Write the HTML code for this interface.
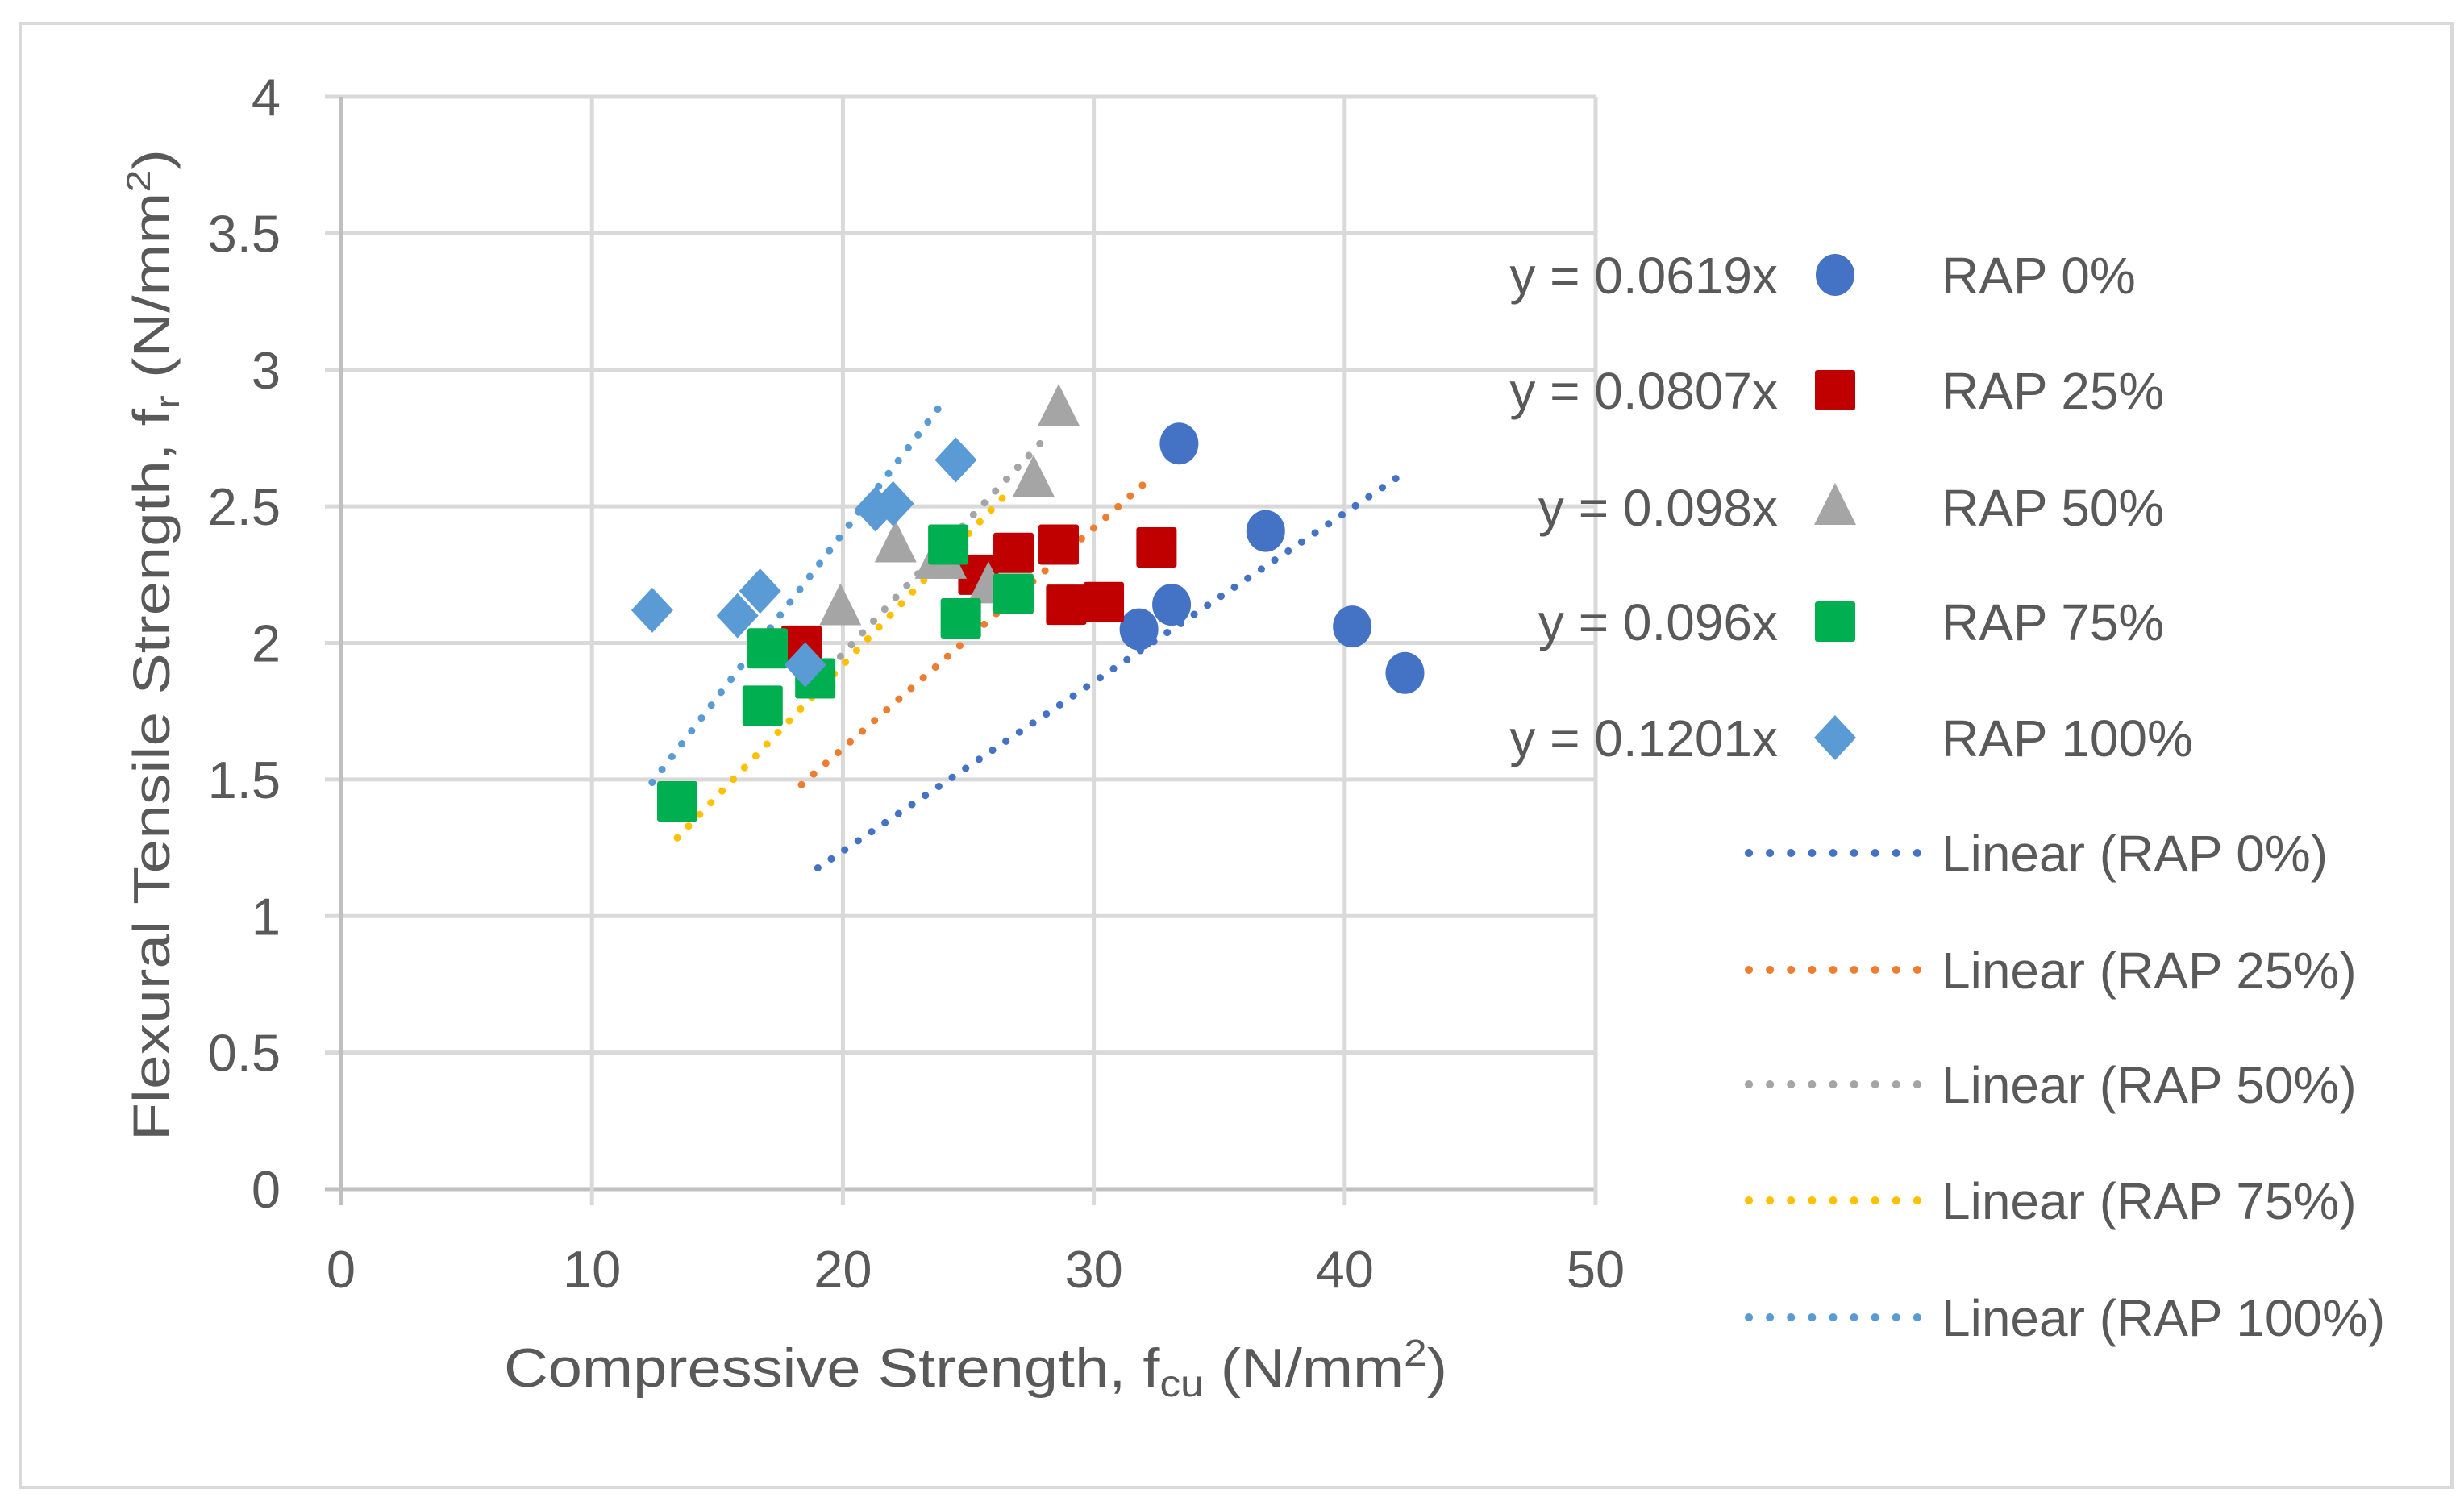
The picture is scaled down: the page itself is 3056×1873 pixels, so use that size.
<!DOCTYPE html>
<html><head><meta charset="utf-8"><style>
html,body{margin:0;padding:0;background:#fff;}
svg{display:block;font-family:"Liberation Sans",sans-serif;}
</style></head><body>
<svg id="chart" width="3056" height="1873" viewBox="0 0 3056 1873" xmlns="http://www.w3.org/2000/svg">
<rect x="25" y="29" width="3016" height="1816" fill="#fff" stroke="#d9d9d9" stroke-width="4"/>
<g id="grid"></g><g id="trends"></g><g id="marks"></g><g id="axes"></g><g id="legend"></g>
<text transform="translate(210,800) rotate(-90)" text-anchor="middle" font-size="64" fill="#595959" textLength="1230" lengthAdjust="spacingAndGlyphs">Flexural Tensile Strength, f<tspan font-size="42" dy="12">r</tspan><tspan dy="-12"> (N/mm</tspan><tspan font-size="42" dy="-24">2</tspan><tspan dy="24">)</tspan></text>
<text x="1210" y="1720" text-anchor="middle" font-size="68" fill="#595959" textLength="1170" lengthAdjust="spacingAndGlyphs">Compressive Strength, f<tspan font-size="46" dy="12">cu</tspan><tspan dy="-12"> (N/mm</tspan><tspan font-size="46" dy="-26">2</tspan><tspan dy="26">)</tspan></text>
</svg>
<script>
const xTicks=[0,10,20,30,40,50];
const yTicks=[0,0.5,1,1.5,2,2.5,3,3.5,4];
const seriesNames=["RAP 0%","RAP 25%","RAP 50%","RAP 75%","RAP 100%"];
const equations=["y = 0.0619x","y = 0.0807x","y = 0.098x","y = 0.096x","y = 0.1201x"];
const slopes=[0.0619,0.0807,0.098,0.096,0.1201];
const trendStart=[19,18.35,19.9,13.4,12.4];
const trendEnd=[42.4,32.2,28.1,26.7,24.15];
const rap0x=[33.4,36.85,33.1,31.8,40.3,42.4];
const rap0y=[2.73,2.41,2.14,2.05,2.06,1.89];
const rap25x=[18.35,25.4,26.8,28.6,28.9,30.4,32.5];
const rap25y=[1.99,2.25,2.33,2.36,2.14,2.15,2.35];
const rap50x=[28.6,27.6,22.1,19.9,23.7,24.1,25.8];
const rap50y=[2.86,2.6,2.36,2.13,2.3,2.3,2.21];
const rap75x=[13.4,16.8,17.0,18.9,24.2,24.7,26.8];
const rap75y=[1.42,1.77,1.98,1.87,2.36,2.09,2.18];
const rap100x=[12.4,15.8,16.7,18.5,21.3,22.0,24.5];
const rap100y=[2.12,2.10,2.19,1.92,2.49,2.51,2.67];
const xs=[rap0x,rap25x,rap50x,rap75x,rap100x];
const ys=[rap0y,rap25y,rap50y,rap75y,rap100y];
const mColors=["#4472c4","#c00000","#a5a5a5","#00b050","#5b9bd5"];
const tColors=["#4472c4","#ed7d31","#a5a5a5","#ffc000","#5b9bd5"];
const shapes=["circle","square","triangle","square","diamond"];

const NS="http://www.w3.org/2000/svg";
const X0=423,X1=1979,Y0=1475,Y1=120;
const sx=v=>X0+(v-0)/(50-0)*(X1-X0);
const sy=v=>Y0-(v-0)/(4-0)*(Y0-Y1);
function mk(tag,attrs,parent){const e=document.createElementNS(NS,tag);for(const k in attrs)e.setAttribute(k,attrs[k]);parent.appendChild(e);return e;}
const grid=document.getElementById('grid'),axes=document.getElementById('axes'),trends=document.getElementById('trends'),marks=document.getElementById('marks'),legend=document.getElementById('legend');
yTicks.forEach(t=>{
  const l=mk('line',{x1:X0-20,x2:X1,y1:sy(t),y2:sy(t),stroke:t===0?'#bfbfbf':'#d9d9d9','stroke-width':5},grid);
  
  
  const tx=mk('text',{x:348,y:sy(t)+23,'text-anchor':'end','font-size':65,fill:'#595959'},axes);
  tx.textContent=t;
  
  
});
xTicks.forEach(t=>{
  const l=mk('line',{x1:sx(t),x2:sx(t),y1:Y1,y2:Y0+20,stroke:t===0?'#bfbfbf':'#d9d9d9','stroke-width':5},grid);
  
  
  const tx=mk('text',{x:sx(t),y:1597,'text-anchor':'middle','font-size':65,fill:'#595959'},axes);
  tx.textContent=t;
  
  
});
function marker(shape,cx,cy,col,par,s){
  let e;
  if(shape==='circle')e=mk('ellipse',{cx:cx,cy:cy,rx:24*s,ry:26*s,fill:col},par);
  else if(shape==='square')e=mk('rect',{x:cx-25*s,y:cy-25*s,width:50*s,height:50*s,rx:3,fill:col},par);
  else if(shape==='triangle')e=mk('polygon',{points:`${cx},${cy-30*s} ${cx+26*s},${cy+22*s} ${cx-26*s},${cy+22*s}`,fill:col},par);
  else e=mk('polygon',{points:`${cx},${cy-28*s} ${cx+26*s},${cy} ${cx},${cy+28*s} ${cx-26*s},${cy}`,fill:col},par);
  return e;
}
for(let i=0;i<5;i++){
  const tl=mk('line',{x1:sx(trendStart[i]),y1:sy(slopes[i]*trendStart[i]),x2:sx(trendEnd[i]),y2:sy(slopes[i]*trendEnd[i]),stroke:tColors[i],'stroke-width':9,'stroke-linecap':'round','stroke-dasharray':'0.1 20'},trends);
  
  
}
for(let i=0;i<5;i++){
  xs[i].forEach((v,j)=>{
    const m=marker(shapes[i],sx(v),sy(ys[i][j]),mColors[i],marks,1);
    
    
  });
}
const rowY=[341,484,629,771,915,1058,1203,1345,1489,1634];
for(let i=0;i<5;i++){
  const y=rowY[i];
  const eq=mk('text',{x:2205,y:y+23,'text-anchor':'end','font-size':64,fill:'#595959'},legend);
  eq.textContent=equations[i];
  
  
  const m=marker(shapes[i],2276,y,mColors[i],legend,1);
  
  
  const tx=mk('text',{x:2408,y:y+23,'font-size':64,fill:'#595959'},legend);
  tx.textContent=seriesNames[i];
  
  
}
for(let i=0;i<5;i++){
  const y=rowY[i+5];
  const l=mk('line',{x1:2169,x2:2379,y1:y,y2:y,stroke:tColors[i],'stroke-width':10,'stroke-linecap':'round','stroke-dasharray':'0.1 26'},legend);
  
  
  const tx=mk('text',{x:2408,y:y+23,'font-size':64,fill:'#595959'},legend);
  tx.textContent='Linear ('+seriesNames[i]+')';
  
  
}
</script>
</body></html>
